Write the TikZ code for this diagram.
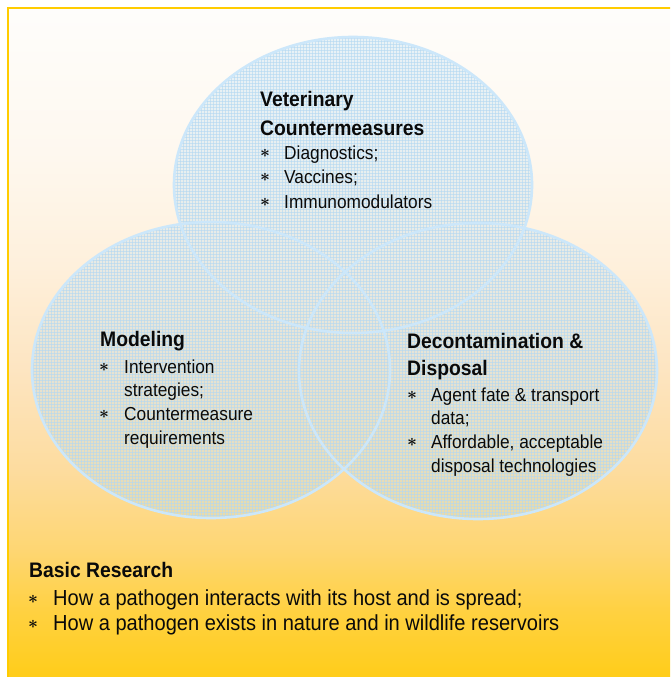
\documentclass[tikz,border=0pt]{standalone}
\usepackage{fontspec}
\setmainfont[FakeStretch=0.92]{Liberation Sans}
\usetikzlibrary{patterns}

% palette
\definecolor{frameyel}{HTML}{FFCC00}
\definecolor{ringblue}{HTML}{CCE7FA}
\definecolor{discblue}{HTML}{BFE0F5}
\definecolor{gridblue}{HTML}{B3D8F2}
\definecolor{inkblack}{HTML}{0A0A0A}
\definecolor{bgA}{HTML}{FEFDFB}
\definecolor{bgB}{HTML}{FEF8EF}
\definecolor{bgC}{HTML}{FEF0DC}
\definecolor{bgD}{HTML}{FDE5C2}
\definecolor{bgE}{HTML}{FDDC9F}
\definecolor{bgF}{HTML}{FED672}
\definecolor{bgG}{HTML}{FFD140}
\definecolor{bgH}{HTML}{FFCC12}

% cream at the top fading into warm yellow at the bottom
\pgfdeclareverticalshading{backdrop}{100bp}{%
  color(0bp)=(bgH); color(25bp)=(bgH); color(30.7bp)=(bgG);
  color(35.2bp)=(bgF); color(41.2bp)=(bgE); color(48.7bp)=(bgD);
  color(56.2bp)=(bgC); color(64.4bp)=(bgB); color(75bp)=(bgA);
  color(100bp)=(bgA)}

\newcommand{\venn}{%
  (353,185) ellipse [x radius=179pt, y radius=148pt]
  (211,370) ellipse [x radius=179pt, y radius=148pt]
  (478,371) ellipse [x radius=179pt, y radius=148pt]}

\begin{document}
\begin{tikzpicture}[x=1pt,y=-1pt,
  title/.style={font=\bfseries\fontsize{21}{21}\selectfont, text=inkblack,
    anchor=base west, inner sep=0pt},
  entry/.style={font=\fontsize{18.8}{18.8}\selectfont, text=inkblack,
    anchor=base west, inner sep=0pt},
  bigentry/.style={entry, font=\fontsize{21.8}{21.8}\selectfont},
  bul/.style={font=\fontsize{17}{17}\selectfont\boldmath, text=inkblack, inner sep=0pt},
  disc/.style={fill=discblue, fill opacity=0.34},
  mesh/.style={pattern=grid, pattern color=gridblue, opacity=0.6},
  ring/.style={draw=ringblue, line width=2.6pt}]

\useasboundingbox (0,0) rectangle (670,677);
\fill[white] (0,0) rectangle (670,677);
\clip (0,0) rectangle (670,677);

% panel
\shade[shading=backdrop] (8,8) rectangle (680,690);
\draw[frameyel, line width=2.5pt] (8,690) -- (8,8) -- (680,8);

% the three overlapping areas: union tinted once, then the outlines
\path[disc] \venn;
\path[mesh] \venn;
\path[ring] \venn;

% Veterinary Countermeasures
\node[title] (vt1) at (260,106) {Veterinary};
\node[title] (vt2) at (260,135) {Countermeasures};
\node[bul] (vb1) at (265,153) {$\ast$};
\node[entry] (ve1) at (284,159) {Diagnostics;};
\node[bul] (vb2) at (265,177) {$\ast$};
\node[entry] (ve2) at (284,183) {Vaccines;};
\node[bul] (vb3) at (265,202) {$\ast$};
\node[entry] (ve3) at (284,208) {Immunomodulators};

% Modeling
\node[title] (mt1) at (100,346) {Modeling};
\node[bul] (mb1) at (104,367) {$\ast$};
\node[entry] (me1) at (124,373) {Intervention};
\node[entry] (me2) at (124,396) {strategies;};
\node[bul] (mb2) at (104,414) {$\ast$};
\node[entry] (me3) at (124,420) {Countermeasure};
\node[entry] (me4) at (124,444) {requirements};

% Decontamination & Disposal
\node[title] (dt1) at (407,348) {Decontamination \&};
\node[title] (dt2) at (407,375) {Disposal};
\node[bul] (db1) at (412,395) {$\ast$};
\node[entry] (de1) at (431,401) {Agent fate \& transport};
\node[entry] (de2) at (431,424) {data;};
\node[bul] (db2) at (412,442) {$\ast$};
\node[entry] (de3) at (431,448) {Affordable, acceptable};
\node[entry] (de4) at (431,472) {disposal technologies};

% Basic Research
\node[title] (bt1) at (29,577) {Basic Research};
\node[bul] (bb1) at (33,599) {$\ast$};
\node[bigentry] (be1) at (53,605) {How a pathogen interacts with its host and is spread;};
\node[bul] (bb2) at (33,624) {$\ast$};
\node[bigentry] (be2) at (53,630) {How a pathogen exists in nature and in wildlife reservoirs};
\end{tikzpicture}
\end{document}
